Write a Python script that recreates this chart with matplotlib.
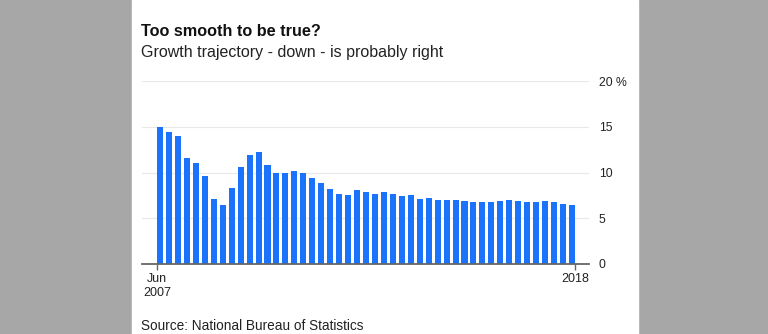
import matplotlib
matplotlib.use("Agg")
from matplotlib import pyplot as plt
import numpy as np

plt.rcParams['font.family'] = ['Liberation Sans', 'DejaVu Sans']

# quarterly GDP growth, %
growth = [15.0, 14.4, 14.0, 11.6, 11.0, 9.6, 7.1, 6.4, 8.3, 10.6,
          11.9, 12.2, 10.8, 10.0, 10.0, 10.2, 10.0, 9.4, 8.8, 8.2,
          7.6, 7.5, 8.1, 7.9, 7.6, 7.9, 7.7, 7.4, 7.5, 7.1,
          7.2, 7.0, 7.0, 7.0, 6.9, 6.8, 6.8, 6.8, 6.9, 7.0,
          6.9, 6.8, 6.8, 6.9, 6.8, 6.6, 6.5]
y_ticks = [0, 5, 10, 15, 20]
y_labels = ['0', '5', '10', '15', '20 %']
x_labels = ['Jun\n2007', '2018']

W, H = 768, 334
fig = plt.figure(figsize=(W / 100, H / 100), dpi=100)
fig.patch.set_facecolor('#a7a7a7')
fig.add_artist(plt.Rectangle((132 / W, 0), (638 - 132) / W, 1,
                             transform=fig.transFigure, color='white', zorder=0))

ax = fig.add_axes([142 / W, (H - 264) / H, (589 - 142) / W, (264 - 81) / H])
ax.set_facecolor('white')

x = np.arange(len(growth))
bw = 0.68
ax.bar(x, growth, width=bw, color='#1a73fa', zorder=3)

ax.set_ylim(0, 20)
ax.set_xlim(-0.34 - 15 / 8.955, len(growth) - 1 + 0.34 + 14 / 8.955)

ax.yaxis.tick_right()
ax.set_yticks(y_ticks)
ax.set_yticklabels(y_labels)
ax.tick_params(axis='y', length=0, pad=7, labelsize=8.8, labelcolor='#222222')
ax.grid(axis='y', color='#e8e8e8', linewidth=0.8, zorder=0)

ax.set_xticks([-bw / 2, len(growth) - 1 + bw / 2])
ax.set_xticklabels(x_labels)
ax.tick_params(axis='x', direction='out', length=4.5, width=1, color='#666666',
               labelsize=9, labelcolor='#222222', pad=2)

for s in ['top', 'right', 'left']:
    ax.spines[s].set_visible(False)
ax.spines['bottom'].set_color('#666666')
ax.spines['bottom'].set_linewidth(1.3)
ax.spines['bottom'].set_zorder(4)

fig.text(141 / W, 1 - 31 / H, 'Too smooth to be true?', fontsize=11.7,
         fontweight='bold', va='center', ha='left', color='#111111')
fig.text(141 / W, 1 - 53 / H, 'Growth trajectory - down - is probably right',
         fontsize=11.5, va='center', ha='left', color='#222222')
fig.text(141 / W, 1 - 326 / H, 'Source: National Bureau of Statistics',
         fontsize=9.8, va='center', ha='left', color='#222222')

fig.savefig('out.png', dpi=100, facecolor=fig.get_facecolor())
